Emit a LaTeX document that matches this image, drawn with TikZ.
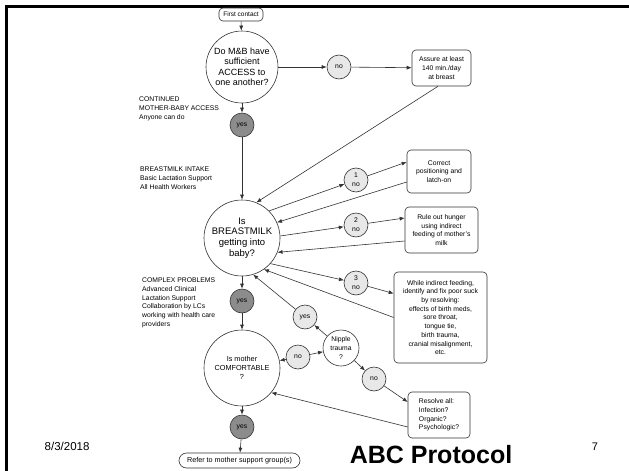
\documentclass[tikz,border=0pt]{standalone}
\usepackage{fontspec}
\setmainfont{Liberation Sans}
\usetikzlibrary{arrows.meta,calc}
\begin{document}
\begin{tikzpicture}[x=1pt,y=-1pt,
  ln/.style={draw=black!80, line width=0.6pt},
  arr/.style={ln,-{Latex[length=5pt,width=4pt]}},
  bigc/.style={circle, draw=black!80, line width=0.6pt, fill=white, inner sep=0pt, align=center},
  yesc/.style={circle, draw=black!80, line width=0.6pt, fill=black!45, minimum size=24pt, inner sep=0pt, font=\fontsize{6.8}{8.7}\selectfont},
  noc/.style={circle, draw=black!80, line width=0.6pt, fill=black!9, minimum size=24pt, inner sep=0pt, align=center, font=\fontsize{6.8}{8.7}\selectfont},
  bx/.style={draw=black!80, line width=0.6pt, rounded corners=4pt, fill=white, align=center, inner sep=2pt, font=\fontsize{6.8}{8.7}\selectfont},
  lab/.style={anchor=north west, align=left, inner sep=0pt, font=\fontsize{6.8}{8.8}\selectfont},
]
\useasboundingbox (0,0) rectangle (629,471);
\draw[line width=3pt] (6.5,471) -- (6.5,6.5) -- (629,6.5);

\node[bx, font=\fontsize{6.5}{7}\selectfont, inner sep=1pt, minimum width=44pt, minimum height=13pt] (fc) at (241,14.5) {First contact};
\node[bigc, minimum size=72pt, font=\fontsize{9}{9.5}\selectfont] (acc) at (242,67) {Do M\&B have\\sufficient\\[2pt]ACCESS to\\one another?};
\node[noc] (no0) at (339,67) {no};
\node[bx, minimum width=59pt, minimum height=36pt] (as) at (441.5,68) {Assure at least\\140 min./day\\at breast};
\node[yesc] (y1) at (242,125) {yes};
\node[bigc, minimum size=76pt, font=\fontsize{9.5}{10.7}\selectfont] (bm) at (242,238) {Is\\BREASTMILK\\getting into\\baby?};
\node[noc] (n1) at (356,180) {1\\no};
\node[bx, minimum width=64pt, minimum height=43pt] (cor) at (439,171.5) {Correct\\positioning and\\latch-on};
\node[noc] (n2) at (356,225) {2\\no};
\node[bx, minimum width=73pt, minimum height=46pt] (ro) at (441.5,230) {Rule out hunger\\using indirect\\feeding of mother's\\milk};
\node[noc] (n3) at (356,283) {3\\no};
\node[bx, minimum width=93pt, minimum height=91pt] (wh) at (440.5,317.5) {While indirect feeding,\\identify and fix poor suck\\by resolving:\\effects of birth meds,\\sore throat,\\tongue tie,\\birth trauma,\\cranial misalignment,\\etc.};
\node[yesc] (y2) at (242,301) {yes};
\node[bigc, minimum size=76pt, font=\fontsize{7.3}{9}\selectfont] (cm) at (242,368) {Is mother\\COMFORTABLE\\?};
\node[yesc] (y3) at (242,427) {yes};
\node[bx, rounded corners=7.5pt, minimum width=121pt, minimum height=15pt, inner sep=1pt, font=\fontsize{7.2}{8}\selectfont] (ref) at (239.5,460.5) {Refer to mother support group(s)};
\node[noc] (yl) at (305,317) {yes};
\node[circle, draw=black!80, line width=0.6pt, fill=white, minimum size=36pt, inner sep=0pt, align=center, font=\fontsize{6.8}{8.7}\selectfont] (nt) at (341,348) {Nipple\\trauma\\?};
\node[noc] (noL) at (298,357) {no};
\node[noc] (noLow) at (374,379) {no};
\node[bx, align=left, minimum width=62pt, minimum height=46pt] (rs) at (439,415) {Resolve all:\\Infection?\\Organic?\\Psychologic?};

\node[lab] (l1) at (139,96.5) {CONTINUED\\MOTHER-BABY ACCESS\\Anyone can do};
\node[lab] (l2) at (140,166.5) {BREASTMILK INTAKE\\Basic Lactation Support\\All Health Workers};
\node[lab] (l3) at (142,277.5) {COMPLEX PROBLEMS\\Advanced Clinical\\Lactation Support\\Collaboration by LCs\\working with health care\\providers};

\node[font=\fontsize{11.5}{13}\selectfont, anchor=west, inner sep=0pt] (date) at (44.5,446.5) {8/3/2018};
\node[font=\fontsize{25}{28}\selectfont\bfseries, anchor=base, inner sep=0pt] (title) at (431,463) {ABC Protocol};
\node[font=\fontsize{11}{13}\selectfont, inner sep=0pt] (pg) at (595,447) {7};

\draw[arr] (fc) -- (acc);
\draw[arr] (acc) -- (no0);
\draw[arr] (no0) -- (as);
\draw[arr] (acc) -- (y1);
\draw[arr] (y1) -- (bm);
\draw[arr] ([xshift=-3.5pt]as.south) -- (bm.68);
\draw[arr] (bm.45) -- (n1);
\draw[arr] (n1) -- ([yshift=9.5pt]cor.west);
\draw[arr] ([yshift=-10.5pt]cor.west) -- (bm.24);
\draw[arr] (bm.3) -- (n2);
\draw[arr] (n2) -- ([yshift=12pt]ro.west);
\draw[arr] ([yshift=-11pt]ro.west) -- (bm.-22);
\draw[arr] (bm.-42) -- (n3);
\draw[arr] (n3) -- ([yshift=24pt]wh.west);
\draw[arr] (wh.west) -- (bm.-55);
\draw[arr] (bm) -- (y2);
\draw[arr] (y2) -- (cm);
\draw[arr] (cm) -- (y3);
\draw[arr] (y3) -- (ref);
\draw[arr] (nt) -- (yl);
\draw[arr] (yl) -- (bm.-73);
\draw[arr] (noL) -- (cm);
\draw[arr] (noL) -- (nt);
\draw[arr] (nt) -- (noLow);
\draw[arr] (noLow) -- ([yshift=13pt]rs.west);
\draw[arr] ([yshift=-12pt]rs.west) -- (cm.-40);
\end{tikzpicture}
\end{document}
